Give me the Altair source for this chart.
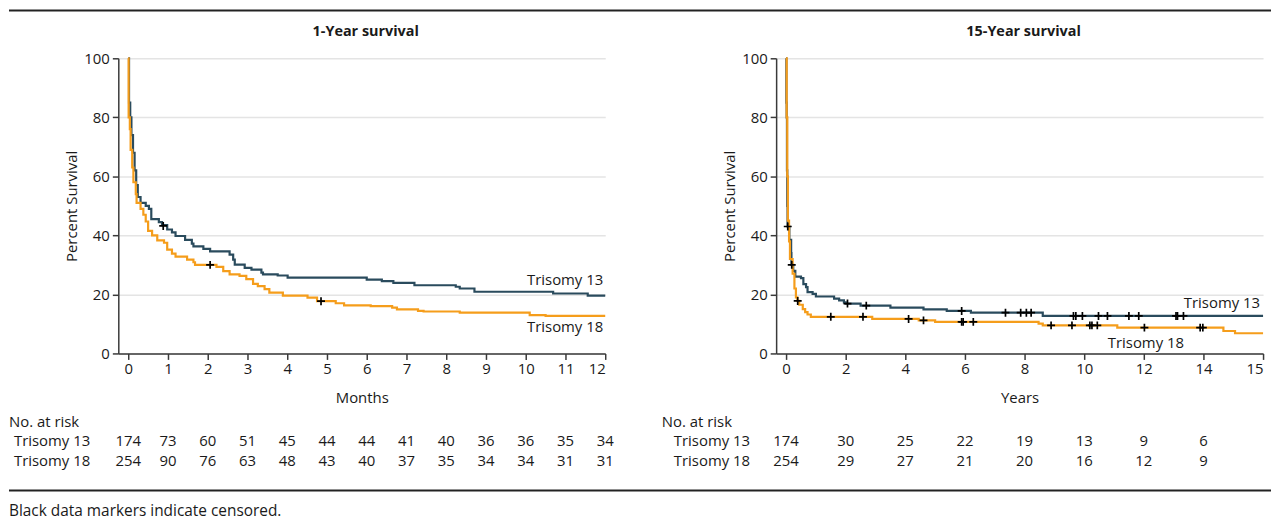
import altair as alt
import pandas as pd

FONT = "Open Sans"
COL13 = "#2a4b5d"
COL18 = "#f59d1b"
INK = "#1a1a1a"
FS = 15

# ---------------- 1-year survival (months) ----------------
t13_1y_time = [0, 0.02, 0.05, 0.08, 0.12, 0.16, 0.2, 0.24, 0.31, 0.44, 0.52, 0.58, 0.77, 0.85,
               0.98, 1.1, 1.19, 1.43, 1.6, 1.64, 1.89, 2.06, 2.55, 2.64, 2.68, 2.93, 3.1, 3.35,
               3.39, 3.76, 4.01, 6.0, 6.38, 6.67, 7.2, 8.24, 8.34, 8.71, 10.69, 11.56, 12.0]
t13_1y_surv = [100, 85, 80, 74, 68, 62, 57, 53, 51, 50, 49, 45.5, 44.5, 43.5,
               42, 41, 39.8, 38.5, 37.2, 36.3, 35.4, 34.6, 33.5, 31.8, 30.1, 29, 28.4, 27.4,
               26.8, 26.4, 25.7, 25.0, 24.5, 23.9, 23.1, 22.6, 22.0, 20.9, 20.3, 19.6, 19.6]

t18_1y_time = [0, 0.01, 0.04, 0.06, 0.1, 0.13, 0.19, 0.21, 0.31, 0.38, 0.44, 0.5, 0.6, 0.73,
               0.9, 0.98, 1.1, 1.19, 1.48, 1.64, 1.68, 2.22, 2.39, 2.55, 2.8, 2.97, 3.14, 3.26,
               3.43, 3.55, 3.89, 4.51, 4.75, 5.22, 5.43, 6.1, 6.64, 6.76, 7.29, 7.43, 8.34,
               10.1, 10.5, 12.0]
t18_1y_surv = [100, 80, 76, 69, 63, 58, 54, 51, 49, 47, 44.7, 41.5, 40, 38.3,
               37.5, 35.2, 33.8, 32.8, 31.8, 30.9, 30.0, 29.3, 27.9, 26.8, 26.3, 25.2, 23.6, 22.8,
               21.8, 20.6, 19.6, 18.9, 17.7, 17.0, 16.3, 16.0, 15.5, 14.9, 14.4, 14.2, 13.8,
               13.0, 12.7, 12.7]

cens13_1y_time = [0.88]
cens13_1y_surv = [43.2]
cens18_1y_time = [2.06, 4.85]
cens18_1y_surv = [30.0, 17.7]

risk_1y_time = [0, 1, 2, 3, 4, 5, 6, 7, 8, 9, 10, 11, 12]
risk13_1y = [174, 73, 60, 51, 45, 44, 44, 41, 40, 36, 36, 35, 34]
risk18_1y = [254, 90, 76, 63, 48, 43, 40, 37, 35, 34, 34, 31, 31]

# ---------------- 15-year survival (years) ----------------
t13_15y_time = [0, 0.01, 0.02, 0.03, 0.04, 0.05, 0.11, 0.17, 0.18, 0.24, 0.31, 0.5, 0.58, 0.67,
                0.72, 0.89, 1.0, 1.61, 1.78, 1.94, 2.0, 2.5, 3.5, 4.61, 5.39, 6.2, 8.61, 16.0]
t13_15y_surv = [100, 85, 80, 62, 50, 43, 38.5, 34, 30, 28, 26, 25.5, 23.5, 22.5,
                20.8, 20.2, 19.3, 18.6, 18.0, 17.3, 16.9, 16.2, 15.5, 14.9, 14.4, 13.8, 12.7, 12.7]

t18_15y_time = [0, 0.02, 0.04, 0.06, 0.1, 0.13, 0.22, 0.28, 0.33, 0.38, 0.44, 0.56, 0.64, 0.72,
                0.83, 2.89, 4.45, 5.0, 8.47, 8.61, 11.11, 14.67, 15.06, 16.0]
t18_15y_surv = [100, 80, 60, 45, 38, 32, 27, 22, 19, 17.8, 16.5, 15, 14, 13.2,
                12.4, 11.7, 11.2, 10.7, 10.1, 9.5, 8.75, 7.6, 6.85, 6.85]

cens13_15y_time = [0.056, 0.19, 2.06, 2.69, 5.89, 7.36, 7.87, 8.06, 8.22, 9.64, 9.72, 9.94,
                   10.48, 10.78, 11.5, 11.83, 13.08, 13.13, 13.33]
cens13_15y_surv = [43, 30, 16.9, 16.2, 14.4, 13.8, 13.8, 13.8, 13.8, 12.7, 12.7, 12.7,
                   12.7, 12.7, 12.7, 12.7, 12.7, 12.7, 12.7]
cens18_15y_time = [0.39, 1.5, 2.58, 4.11, 4.61, 5.89, 5.94, 6.28, 8.89, 9.59, 10.19, 10.26,
                   10.44, 12.02, 13.89, 13.98]
cens18_15y_surv = [17.8, 12.4, 12.4, 11.7, 11.2, 10.7, 10.7, 10.7, 9.5, 9.5, 9.5, 9.5,
                   9.5, 8.75, 8.75, 8.75]

risk_15y_time = [0, 2, 4, 6, 8, 10, 12, 14]
risk13_15y = [174, 30, 25, 22, 19, 13, 9, 6]
risk18_15y = [254, 29, 27, 21, 20, 16, 12, 9]

groups = ["Trisomy 13", "Trisomy 18"]
PLUS = "M-1,0L1,0M0,-1L0,1"

W, H = 490, 297


def txt(s, x, y, align="left", size=FS, **kw):
    return alt.Chart(pd.DataFrame({"a": [0]})).mark_text(
        font=FONT, fontSize=size, color=INK, align=align, baseline="middle", **kw
    ).encode(x=x, y=y, text=alt.value(s))


def panel(title, xtitle, xdomain, xticks, label_expr,
          c13, c18, k13, k18, risk_t, r13, r18,
          lab13, lab18, risk_label_x, row_label_x, extras):
    xscale = alt.Scale(domain=xdomain, nice=False, zero=False)
    yscale = alt.Scale(domain=[0, 100], nice=False)
    xax = alt.Axis(values=xticks, labelExpr=label_expr, title=xtitle, grid=False)
    yax = alt.Axis(values=[0, 20, 40, 60, 80, 100], title="Percent Survival", grid=True)

    def line(t, s, col):
        df = pd.DataFrame({"t": t, "s": s})
        return alt.Chart(df).mark_line(interpolate="step-after", strokeWidth=2.2, color=col).encode(
            x=alt.X("t:Q", scale=xscale, axis=xax),
            y=alt.Y("s:Q", scale=yscale, axis=yax),
        )

    def cens(t, s):
        df = pd.DataFrame({"t": t, "s": s})
        return alt.Chart(df).mark_point(shape=PLUS, size=64, filled=False, stroke="black",
                                        strokeWidth=1.7, opacity=1).encode(
            x=alt.X("t:Q", scale=xscale), y=alt.Y("s:Q", scale=yscale))

    def risk_row(vals, ypix):
        df = pd.DataFrame({"t": risk_t, "n": vals})
        return alt.Chart(df).mark_text(font=FONT, fontSize=FS, color=INK, align="center",
                                       baseline="middle").encode(
            x=alt.X("t:Q", scale=xscale), y=alt.value(ypix), text="n:Q")

    layers = [
        line(c13[0], c13[1], COL13),
        line(c18[0], c18[1], COL18),
        cens(k13[0], k13[1]),
        cens(k18[0], k18[1]),
        risk_row(r13, 385),
        risk_row(r18, 405),
        txt(title, alt.value(W / 2 + 4), alt.value(-26), align="center", size=14.5,
            fontWeight="bold"),
        txt("No. at risk", alt.value(risk_label_x), alt.value(366)),
        txt(groups[0], alt.value(row_label_x), alt.value(385)),
        txt(groups[1], alt.value(row_label_x), alt.value(405)),
        txt(groups[0], alt.datum(lab13[0], scale=xscale), alt.datum(lab13[1], scale=yscale),
            align=lab13[2]),
        txt(groups[1], alt.datum(lab18[0], scale=xscale), alt.datum(lab18[1], scale=yscale),
            align=lab18[2]),
    ] + extras
    return alt.layer(*layers).properties(width=W, height=H)


def rule(y):
    return alt.Chart(pd.DataFrame({"a": [0]})).mark_rule(color="#222", strokeWidth=2).encode(
        x=alt.value(-110), x2=alt.value(1160), y=alt.value(y))


footnote = txt("Black data markers indicate censored.", alt.value(-110), alt.value(455.5),
               size=15.5)

left = panel("1-Year survival", "Months", [-0.25, 12], list(range(13)), "datum.label",
             (t13_1y_time, t13_1y_surv), (t18_1y_time, t18_1y_surv),
             (cens13_1y_time, cens13_1y_surv), (cens18_1y_time, cens18_1y_surv),
             risk_1y_time, risk13_1y, risk18_1y,
             (11.95, 25.0, "right"), (11.95, 8.9, "right"), -110, -105,
             [rule(-48), rule(435), footnote])

right = panel("15-Year survival", "Years", [-1 / 3, 16], [0, 2, 4, 6, 8, 10, 12, 14, 16],
              "datum.value == 16 ? '15' : datum.label",
              (t13_15y_time, t13_15y_surv), (t18_15y_time, t18_15y_surv),
              (cens13_15y_time, cens13_15y_surv), (cens18_15y_time, cens18_15y_surv),
              risk_15y_time, risk13_15y, risk18_15y,
              (15.9, 17.1, "right"), (12.07, 3.6, "center"), -115, -103, [])

chart = alt.hconcat(left, right, spacing=172, bounds="flush", padding=0).configure(
    font=FONT
).configure_view(stroke=None).configure_axis(
    labelFont=FONT, titleFont=FONT, labelFontSize=FS, titleFontSize=FS,
    labelColor=INK, titleColor=INK, titleFontWeight="normal",
    domainColor="#3a3a3a", domainWidth=1.5, tickColor="#3a3a3a", tickWidth=1.5, tickSize=6,
    gridColor="#e4e4e4", gridWidth=1.5,
).configure_axisX(labelPadding=2, titlePadding=14).configure_axisY(labelPadding=3, titlePadding=4)

chart.save("out.html", embed_options={"renderer": "svg", "actions": False})
